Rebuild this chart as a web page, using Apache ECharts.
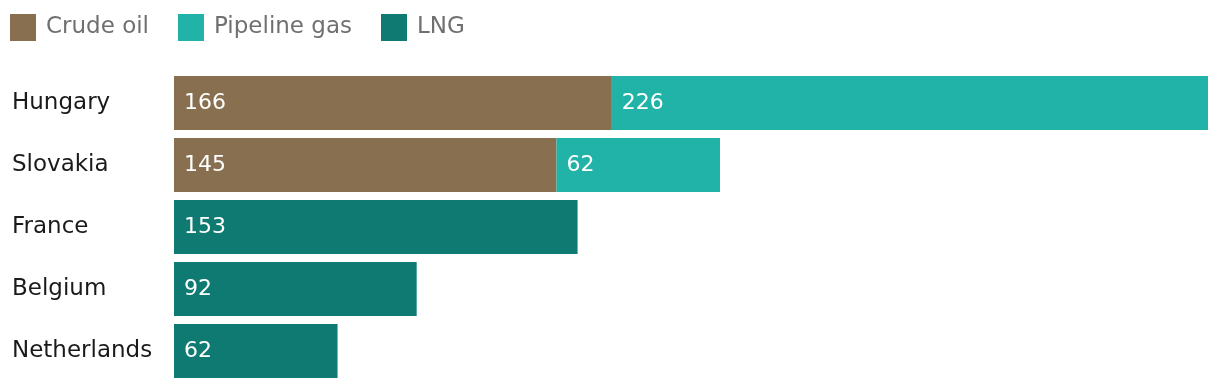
<!DOCTYPE html>
<html><head><meta charset="utf-8">
<script src="https://cdn.jsdelivr.net/npm/echarts@6/dist/echarts.min.js"></script>
<style>html,body{margin:0;padding:0;background:#fff}#c{width:1220px;height:390px}</style>
</head><body><div id="c"></div>
<script>
const categories = ['Hungary', 'Slovakia', 'France', 'Belgium', 'Netherlands'];
const crudeOil = [166, 145, null, null, null];
const pipelineGas = [226, 62, null, null, null];
const lng = [null, null, 153, 92, 62];
const seriesNames = ['Crude oil', 'Pipeline gas', 'LNG'];
const colors = ['#876f50', '#22b3a8', '#0e7a72'];

const font = '"DejaVu Sans", "Noto Sans", sans-serif';
const chart = echarts.init(document.getElementById('c'), null, {renderer: 'canvas'});
const label = {show: true, position: 'insideLeft', distance: 10, color: '#fff', fontSize: 22, fontFamily: font};
const mk = (name, data, color) => ({
  name, type: 'bar', stack: 'total', data, barCategoryGap: '12.9%',
  itemStyle: {color}, label, emphasis: {disabled: true}
});
chart.setOption({
  animation: false,
  textStyle: {fontFamily: font},
  legend: {
    left: 5, top: 9, itemWidth: 26, itemHeight: 27, itemGap: 29,
    icon: 'rect',
    textStyle: {fontSize: 23, color: '#707070', fontFamily: font, padding: [0, 0, 0, 5]},
    data: seriesNames
  },
  grid: {left: 174, right: 12, top: 72, bottom: 8, containLabel: false},
  xAxis: {type: 'value', min: 0, max: 392, show: false},
  yAxis: {
    type: 'category', data: categories, inverse: true,
    axisLine: {show: false}, axisTick: {show: false},
    axisLabel: {align: 'left', margin: 162, fontSize: 23, color: '#1a1a1a', fontFamily: font}
  },
  series: [
    mk(seriesNames[0], crudeOil, colors[0]),
    mk(seriesNames[1], pipelineGas, colors[1]),
    mk(seriesNames[2], lng, colors[2])
  ]
});
</script></body></html>
